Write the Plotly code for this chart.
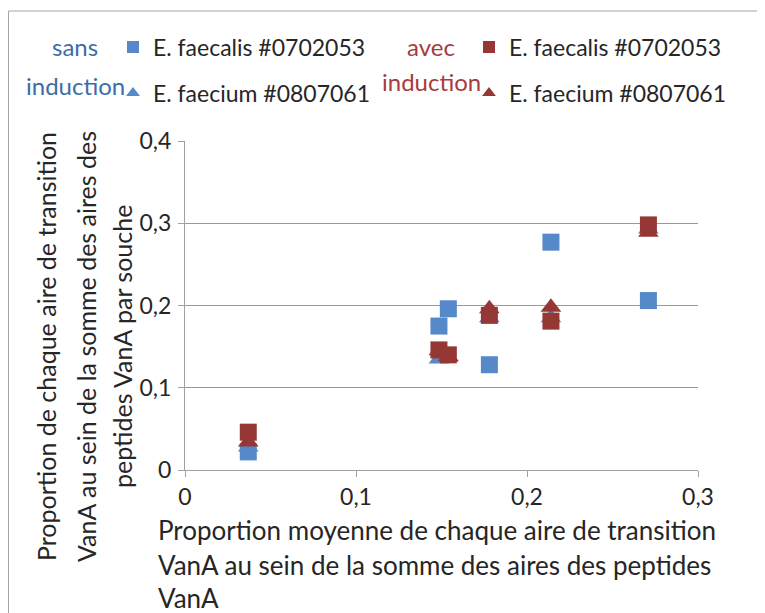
import plotly.graph_objects as go

# ---- data ----
x_mean = [0.037, 0.1485, 0.154, 0.178, 0.214, 0.271]
sans_faecalis = [0.022, 0.175, 0.196, 0.128, 0.277, 0.206]
sans_faecium = [0.028, 0.135, 0.137, 0.185, 0.185, 0.293]
avec_faecalis = [0.046, 0.146, 0.140, 0.188, 0.181, 0.298]
avec_faecium = [0.034, 0.145, 0.138, 0.196, 0.198, 0.289]

x_ticks = [0, 0.1, 0.2, 0.3]
x_ticktext = ["0", "0,1", "0,2", "0,3"]
y_ticks = [0, 0.1, 0.2, 0.3, 0.4]
y_ticktext = ["0", "0,1", "0,2", "0,3", "0,4"]

BLUE = "#5589C9"
RED = "#953735"
BLUE_TXT = "#3C6DA8"
RED_TXT = "#A83B3B"
TXT = "#262626"
FONT = "Lato"

# the page body has an 8px margin: figure is drawn from (8, 8) in the window
OFF = 8
WIN_W, WIN_H = 765, 613
W, H = WIN_W - OFF, WIN_H - OFF
# plot area in window coordinates
PL, PR, PT, PB = 185, 698, 141, 470
PW, PH = PR - PL, PB - PT


def px(xp):
    return (xp - PL) / PW


def py(yp):
    return (PB - yp) / PH


fig = go.Figure()
fig.add_trace(go.Scatter(x=x_mean, y=sans_faecalis, mode="markers", name="E. faecalis #0702053",
                         marker=dict(symbol="square", size=17, color=BLUE), legend="legend"))
fig.add_trace(go.Scatter(x=x_mean, y=sans_faecium, mode="markers", name="E. faecium #0807061",
                         marker=dict(symbol="triangle-up", size=18, color=BLUE), legend="legend2"))
fig.add_trace(go.Scatter(x=x_mean, y=avec_faecalis, mode="markers", name="E. faecalis #0702053",
                         marker=dict(symbol="square", size=17, color=RED), legend="legend3"))
fig.add_trace(go.Scatter(x=x_mean, y=avec_faecium, mode="markers", name="E. faecium #0807061",
                         marker=dict(symbol="triangle-up", size=18, color=RED), legend="legend4"))

leg_common = dict(font=dict(family=FONT, size=23, color=TXT), itemsizing="constant",
                  bgcolor="rgba(0,0,0,0)", xanchor="left", yanchor="middle", xref="paper", yref="paper")

fig.update_layout(
    width=W, height=H,
    margin=dict(l=PL - OFF, r=WIN_W - PR, t=PT - OFF, b=WIN_H - PB),
    paper_bgcolor="white", plot_bgcolor="white",
    font=dict(family=FONT, size=23, color=TXT),
    showlegend=True,
    legend=dict(x=px(113), y=py(47), **leg_common),
    legend2=dict(x=px(113), y=py(93), **leg_common),
    legend3=dict(x=px(469), y=py(47), **leg_common),
    legend4=dict(x=px(469), y=py(93), **leg_common),
    xaxis=dict(range=[0, 0.3], tickvals=x_ticks, ticktext=x_ticktext, showgrid=False,
               showline=True, linecolor="#A0A0A0", linewidth=1, ticks="outside", ticklen=6,
               tickcolor="#A0A0A0", zeroline=False, tickfont=dict(family=FONT, size=23, color=TXT)),
    yaxis=dict(range=[0, 0.4], tickvals=y_ticks, ticktext=y_ticktext, showgrid=True,
               gridcolor="#999999", gridwidth=1, showline=True, linecolor="#A0A0A0", linewidth=1,
               ticks="outside", ticklen=6, tickcolor="#A0A0A0", zeroline=False,
               ticklabelstandoff=2,
               tickfont=dict(family=FONT, size=23, color=TXT)),
)

annots = []
# legend group labels
for txt, xp, yp, col in [("sans", 75, 47, BLUE_TXT), ("induction", 75, 85, BLUE_TXT),
                         ("avec", 431, 47, RED_TXT), ("induction", 431, 82, RED_TXT)]:
    annots.append(dict(text=txt, x=px(xp), y=py(yp), xref="paper", yref="paper",
                       showarrow=False, xanchor="center", yanchor="middle",
                       font=dict(family=FONT, size=24, color=col)))

# x title (three lines, left aligned)
for txt, yp in [("Proportion moyenne de chaque aire de transition", 530),
                ("VanA au sein de la somme des aires des peptides", 565),
                ("VanA", 598)]:
    annots.append(dict(text=txt, x=px(156), y=py(yp), xref="paper", yref="paper",
                       showarrow=False, xanchor="left", yanchor="middle",
                       font=dict(family=FONT, size=26, color=TXT)))

# y title (three lines, rotated)
for txt, xp in [("Proportion de chaque aire de transition", 46),
                ("VanA au sein de la somme des aires des", 86),
                ("peptides VanA par souche", 122)]:
    annots.append(dict(text=txt, x=px(xp), y=py(347), xref="paper", yref="paper",
                       showarrow=False, xanchor="center", yanchor="middle", textangle=-90,
                       font=dict(family=FONT, size=25, color=TXT)))

fig.update_layout(annotations=annots)

# chart-area border
fig.add_shape(type="rect", xref="paper", yref="paper",
              x0=px(8.5), x1=px(800), y0=py(650), y1=py(11),
              line=dict(color="#A6A6A6", width=1), fillcolor="rgba(0,0,0,0)")

fig.write_html("out.html")
